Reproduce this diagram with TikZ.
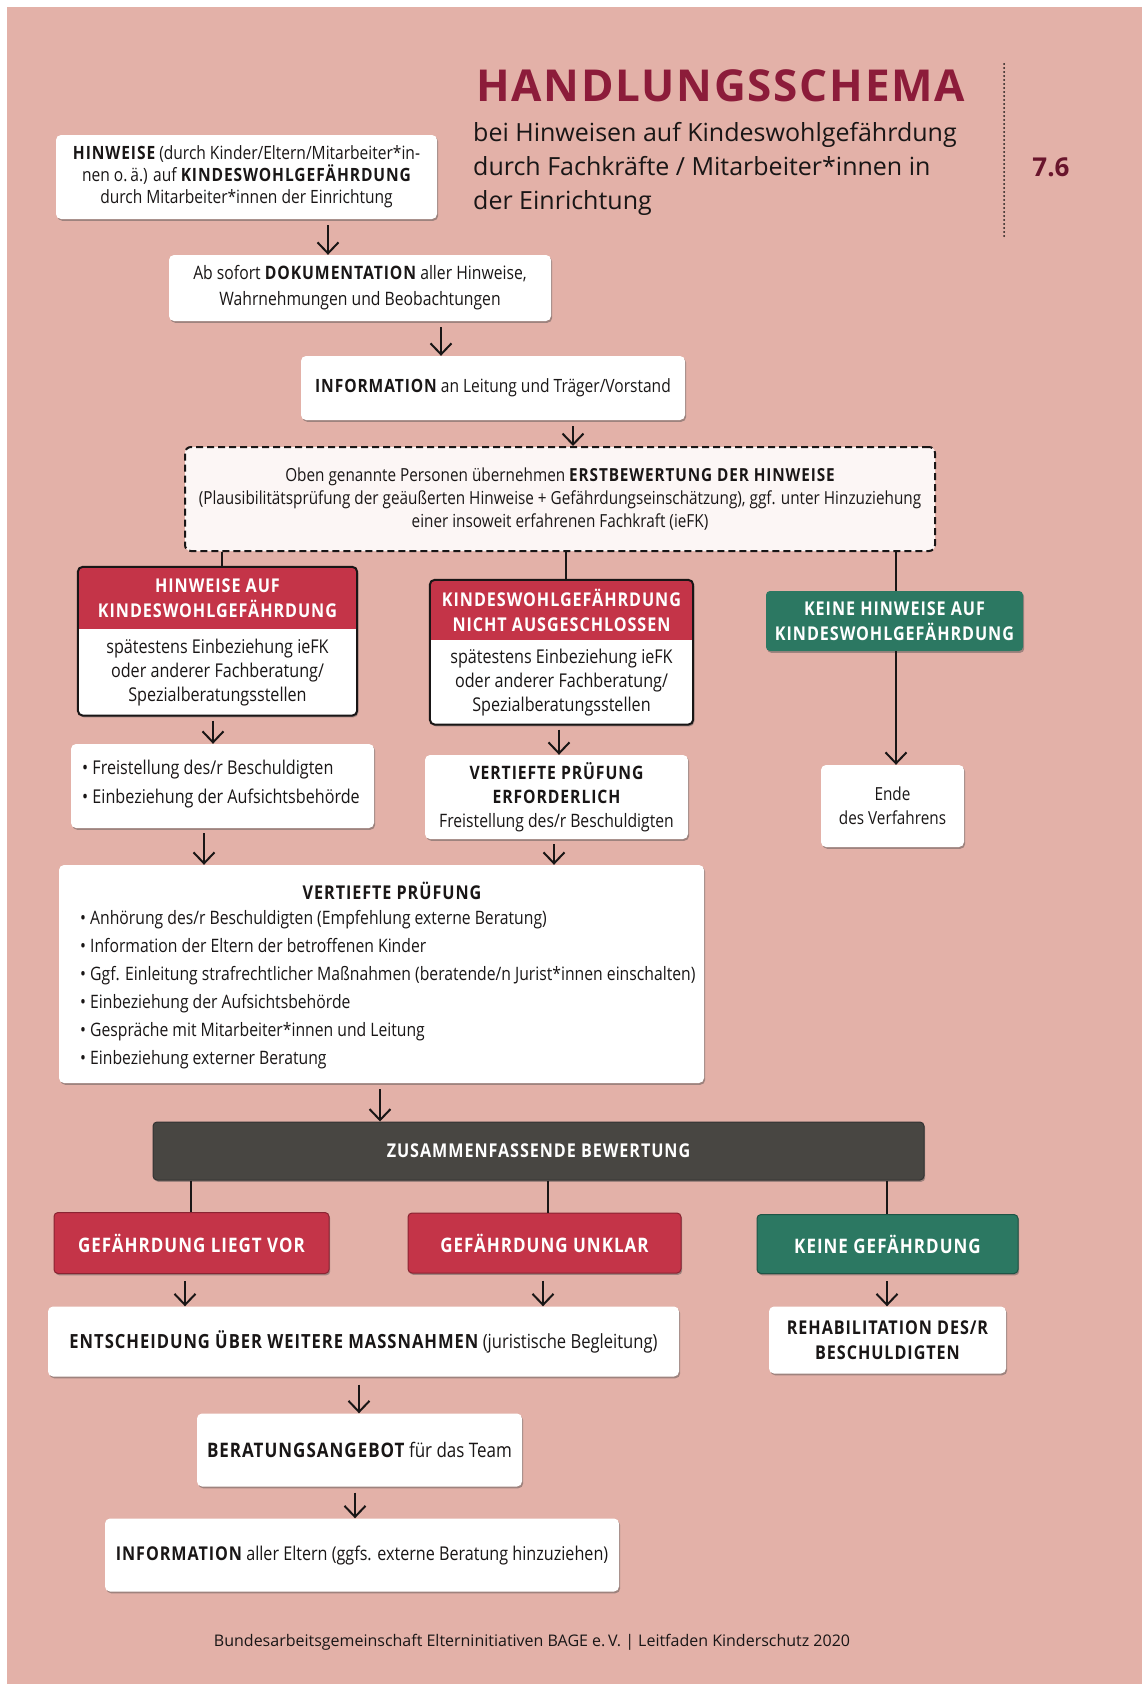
\documentclass[tikz,border=0pt]{standalone}
\usepackage{fontspec}
\setmainfont{Open Sans}
\newfontfamily\cond{Open Sans}[FakeStretch=0.85]
\newfontfamily\condcaps{Open Sans}[FakeStretch=0.85, LetterSpace=5]
\newfontfamily\titlefont{Open Sans}[LetterSpace=4]
\newcommand{\capb}[1]{{\condcaps\bfseries #1}}
\usetikzlibrary{arrows.meta,shadows,calc}
\pgfdeclarelayer{back}
\pgfdeclarelayer{bg}
\pgfsetlayers{back,bg,main}
\definecolor{page}{RGB}{227,177,168}
\definecolor{hdrred}{RGB}{196,52,72}
\definecolor{hdrgreen}{RGB}{44,120,98}
\definecolor{darkbar}{RGB}{72,70,66}
\definecolor{titlered}{RGB}{140,28,58}
\definecolor{ink}{RGB}{25,22,22}
\tikzset{
  shadowed/.style={drop shadow={shadow xshift=1.2pt, shadow yshift=-1.8pt, opacity=.45, fill=black!70}},
  box/.style={fill=white, rounded corners=5pt, inner sep=0pt, align=center, text=ink,
    font=\cond\fontsize{19}{25}\selectfont, shadowed},
  colbox/.style={fill=#1, rounded corners=4pt, inner sep=0pt, align=center, text=white,
    font=\condcaps\bfseries\fontsize{19}{25}\selectfont, shadowed},
  hdr/.style={inner sep=0pt, align=center, text=white, font=\condcaps\bfseries\fontsize{19}{25}\selectfont},
  bodytxt/.style={inner sep=0pt, align=center, text=ink, font=\cond\fontsize{19}{24}\selectfont},
  outl/.style={draw=ink, line width=2pt, rounded corners=5pt},
  arr/.style={draw=ink, line width=2pt, -{Straight Barb[length=11pt,width=21pt]}},
  conn/.style={draw=ink, line width=2pt},
}
\begin{document}
\begin{tikzpicture}[x=1pt,y=-1pt]
\useasboundingbox (0,0) rectangle (1142,1684);
\begin{pgfonlayer}{back}
\fill[white] (0,0) rectangle (1142,1684);
\fill[page] (7,7) rectangle (1142,1684);
\end{pgfonlayer}

% title area
\node[anchor=west, inner sep=0pt, font=\titlefont\bfseries\fontsize{44}{44}\selectfont, text=titlered] (title) at (476,86) {HANDLUNGSSCHEMA};
\node[anchor=north west, inner sep=0pt, align=left, text=ink, font=\fontsize{25}{34}\selectfont] (sub) at (473,122)
  {bei Hinweisen auf Kindeswohlgefährdung\\durch Fachkräfte / Mitarbeiter*innen in\\der Einrichtung};
\node[inner sep=0pt, text=titlered!75!black, font=\bfseries\fontsize{26}{26}\selectfont] (num) at (1051,167) {7.6};
\coordinate (dotA) at (1004,64);
\coordinate (dotB) at (1004,236);
\draw[ink, line width=2pt, line cap=round, dash pattern=on 0pt off 4pt] (dotA) -- (dotB);

% top chain
\node[box, font=\cond\fontsize{18.3}{22}\selectfont, minimum width=381pt, minimum height=84pt] (b1) at (246.5,177)
  {\capb{HINWEISE} (durch Kinder/Eltern/Mitarbeiter*in-\\nen o.\,ä.) auf \capb{KINDESWOHLGEFÄHRDUNG}\\durch Mitarbeiter*innen der Einrichtung};
\node[box, font=\cond\fontsize{18.5}{26}\selectfont, minimum width=382pt, minimum height=66pt] (b2) at (360,288)
  {Ab sofort \capb{DOKUMENTATION} aller Hinweise,\\Wahrnehmungen und Beobachtungen};
\node[box, font=\cond\fontsize{18.3}{26}\selectfont, minimum width=384pt, minimum height=64pt] (b3) at (493,388)
  {\capb{INFORMATION} an Leitung und Träger/Vorstand};
\node[fill=white!88!page, draw=ink, line width=2pt, dash pattern=on 7pt off 4pt, rounded corners=6pt,
  inner sep=0pt, align=center, text=ink, font=\cond\fontsize{18}{23}\selectfont,
  minimum width=750pt, minimum height=104pt] (dsh) at (560,499)
  {Oben genannte Personen übernehmen \capb{ERSTBEWERTUNG DER HINWEISE}\\(Plausibilitätsprüfung der geäußerten Hinweise + Gefährdungseinschätzung), ggf. unter Hinzuziehung\\einer insoweit erfahrenen Fachkraft (ieFK)};

\coordinate (xa) at (328,0);
\coordinate (xb) at (441,0);
\coordinate (xc) at (573,0);
\draw[arr, shorten <=6pt] (b1.south -| xa) -- (b2.north -| xa);
\draw[arr, shorten <=6pt] (b2.south -| xb) -- (b3.north -| xb);
\draw[arr, shorten <=6pt] (b3.south -| xc) -- (dsh.north -| xc);

% three branches
\node[hdr, minimum width=279pt, minimum height=62pt] (hL) at (217.5,598) {HINWEISE AUF\\KINDESWOHLGEFÄHRDUNG};
\node[bodytxt, minimum width=279pt, minimum height=86pt, anchor=north] (bL) at (hL.south)
  {spätestens Einbeziehung ieFK\\oder anderer Fachberatung/\\Spezialberatungsstellen};
\node[hdr, minimum width=263pt, minimum height=60pt] (hC) at (561.5,610) {KINDESWOHLGEFÄHRDUNG\\NICHT AUSGESCHLOSSEN};
\node[bodytxt, minimum width=263pt, minimum height=84pt, anchor=north] (bC) at (hC.south)
  {spätestens Einbeziehung ieFK\\oder anderer Fachberatung/\\Spezialberatungsstellen};
\begin{pgfonlayer}{bg}
  \fill[white, rounded corners=5pt, shadowed] (hL.north west) rectangle (bL.south east);
  \begin{scope}
    \clip[rounded corners=5pt] (hL.north west) rectangle (bL.south east);
    \fill[hdrred] (hL.north west) rectangle (hL.south east);
  \end{scope}
  \draw[outl] (hL.north west) rectangle (bL.south east);
  \fill[white, rounded corners=5pt, shadowed] (hC.north west) rectangle (bC.south east);
  \begin{scope}
    \clip[rounded corners=5pt] (hC.north west) rectangle (bC.south east);
    \fill[hdrred] (hC.north west) rectangle (hC.south east);
  \end{scope}
  \draw[outl] (hC.north west) rectangle (bC.south east);
\end{pgfonlayer}
\node[colbox=hdrgreen, minimum width=257pt, minimum height=60pt] (gK) at (894.5,621) {KEINE HINWEISE AUF\\KINDESWOHLGEFÄHRDUNG};

\coordinate (xd) at (222,0);
\coordinate (xe) at (566,0);
\coordinate (xf) at (896,0);
\draw[conn] (dsh.south -| xd) -- (hL.north -| xd);
\draw[conn] (dsh.south -| xe) -- (hC.north -| xe);
\draw[conn] (dsh.south -| xf) -- (gK.north -| xf);

% second row
\node[box, minimum width=303pt, minimum height=84pt] (bB) at (222.5,786) {};
\node[bodytxt, align=left, anchor=west, font=\cond\fontsize{19}{29}\selectfont] (bBt) at (82,784)
  {•\ Freistellung des/r Beschuldigten\\•\ Einbeziehung der Aufsichtsbehörde};
\node[box, font=\cond\fontsize{18.5}{24}\selectfont, minimum width=263pt, minimum height=84pt] (vC) at (556.5,797)
  {\capb{VERTIEFTE PRÜFUNG}\\\capb{ERFORDERLICH}\\Freistellung des/r Beschuldigten};
\node[box, font=\cond\fontsize{18}{24}\selectfont, minimum width=143pt, minimum height=82pt] (eN) at (892.5,806) {Ende\\des Verfahrens};

\coordinate (xg) at (213,0);
\coordinate (xh) at (559,0);
\draw[arr, shorten <=5pt] (bL.south -| xg) -- (bB.north -| xg);
\draw[arr, shorten <=5pt] (bC.south -| xh) -- (vC.north -| xh);
\draw[arr] (gK.south -| xf) -- (eN.north -| xf);

% big box
\node[box, minimum width=645pt, minimum height=218pt] (vP) at (381.5,974) {};
\node[inner sep=0pt, text=ink, font=\condcaps\bfseries\fontsize{19}{22}\selectfont] (vPt) at (392,891) {VERTIEFTE PRÜFUNG};
\node[inner sep=0pt, anchor=north west, align=left, text=ink, font=\cond\fontsize{18.5}{28}\selectfont] (vPl) at (80,910)
  {•\ Anhörung des/r Beschuldigten (Empfehlung externe Beratung)\\
   •\ Information der Eltern der betroffenen Kinder\\
   •\ Ggf. Einleitung strafrechtlicher Maßnahmen (beratende/n Jurist*innen einschalten)\\
   •\ Einbeziehung der Aufsichtsbehörde\\
   •\ Gespräche mit Mitarbeiter*innen und Leitung\\
   •\ Einbeziehung externer Beratung};
\coordinate (xi) at (204,0);
\coordinate (xj) at (554,0);
\draw[arr, shorten <=5pt] (bB.south -| xi) -- (vP.north -| xi);
\draw[arr, shorten <=5pt] (vC.south -| xj) -- (vP.north -| xj);

% summary bar
\node[colbox=darkbar, draw=black!80, line width=1pt, minimum width=771pt, minimum height=58pt] (zB) at (538.5,1151) {ZUSAMMENFASSENDE BEWERTUNG};
\coordinate (xk) at (380,0);
\draw[arr, shorten <=6pt] (vP.south -| xk) -- (zB.north -| xk);

\node[colbox=hdrred, font=\condcaps\bfseries\fontsize{20}{25}\selectfont, draw=hdrred!70!black, line width=1pt, minimum width=275pt, minimum height=61pt] (rL) at (191.5,1243) {GEFÄHRDUNG LIEGT VOR};
\node[colbox=hdrred, font=\condcaps\bfseries\fontsize{20}{25}\selectfont, draw=hdrred!70!black, line width=1pt, minimum width=273pt, minimum height=60pt] (rU) at (544.5,1243) {GEFÄHRDUNG UNKLAR};
\node[colbox=hdrgreen, font=\condcaps\bfseries\fontsize{20}{25}\selectfont, draw=hdrgreen!70!black, line width=1pt, minimum width=261pt, minimum height=59pt] (gN) at (887.5,1244) {KEINE GEFÄHRDUNG};
\coordinate (xl) at (191,0);
\coordinate (xm) at (548,0);
\coordinate (xn) at (887,0);
\draw[conn] (zB.south -| xl) -- (rL.north -| xl);
\draw[conn] (zB.south -| xm) -- (rU.north -| xm);
\draw[conn] (zB.south -| xn) -- (gN.north -| xn);

% bottom chain
\node[box, font=\cond\fontsize{19.5}{26}\selectfont, minimum width=631pt, minimum height=70pt] (ent) at (363.5,1341.5)
  {\capb{ENTSCHEIDUNG ÜBER WEITERE MASSNAHMEN} (juristische Begleitung)};
\node[box, font=\condcaps\bfseries\fontsize{19}{25}\selectfont, minimum width=237pt, minimum height=67pt] (reh) at (887.5,1340)
  {REHABILITATION DES/R\\BESCHULDIGTEN};
\node[box, font=\cond\fontsize{20}{26}\selectfont, minimum width=325pt, minimum height=73pt] (ber) at (359.5,1450)
  {\capb{BERATUNGSANGEBOT} für das Team};
\node[box, font=\cond\fontsize{19}{26}\selectfont, minimum width=514pt, minimum height=73pt] (inf) at (362,1555)
  {\capb{INFORMATION} aller Eltern (ggfs. externe Beratung hinzuziehen)};
\coordinate (xo) at (185,0);
\coordinate (xp) at (543,0);
\coordinate (xq) at (359,0);
\coordinate (xr) at (355,0);
\draw[arr, shorten <=7pt] (rL.south -| xo) -- (ent.north -| xo);
\draw[arr, shorten <=7pt] (rU.south -| xp) -- (ent.north -| xp);
\draw[arr, shorten <=7pt] (gN.south -| xn) -- (reh.north -| xn);
\draw[arr, shorten <=8pt] (ent.south -| xq) -- (ber.north -| xq);
\draw[arr, shorten <=6pt] (ber.south -| xr) -- (inf.north -| xr);

\node[inner sep=0pt, text=ink, font=\fontsize{16}{16}\selectfont] (foot) at (532,1642)
  {Bundesarbeitsgemeinschaft Elterninitiativen BAGE e.\,V. | Leitfaden Kinderschutz 2020};
\end{tikzpicture}
\end{document}
